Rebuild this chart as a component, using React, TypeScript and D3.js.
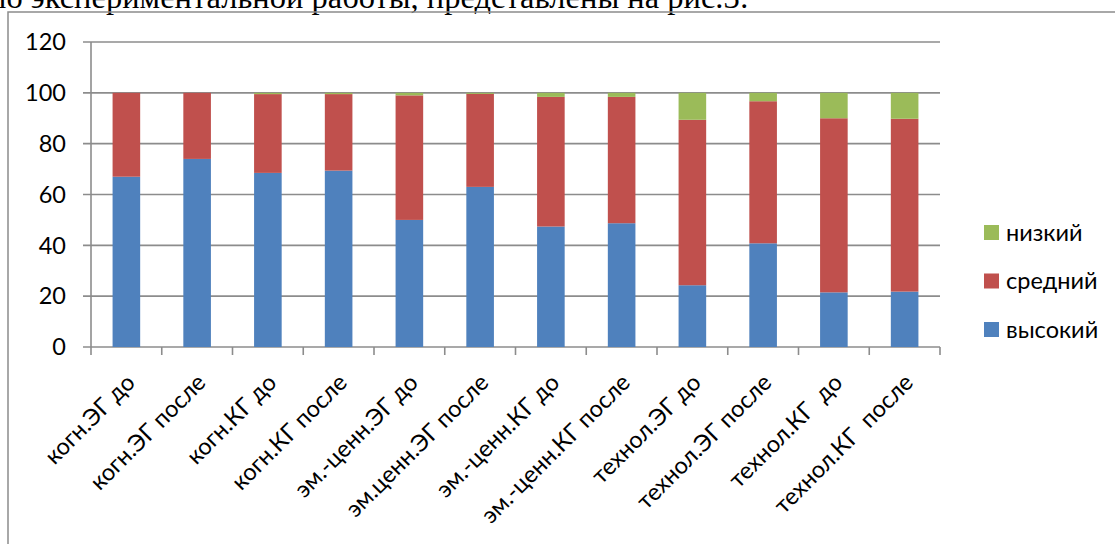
import React from "react";
import * as d3 from "d3";

const categories = [
  "когн.ЭГ до",
  "когн.ЭГ после",
  "когн.КГ до",
  "когн.КГ после",
  "эм.-ценн.ЭГ до",
  "эм.ценн.ЭГ после",
  "эм.-ценн.КГ до",
  "эм.-ценн.КГ после",
  "технол.ЭГ до",
  "технол.ЭГ после",
  "технол.КГ  до",
  "технол.КГ  после",
];
const high = [67, 74, 68.5, 69.4, 50, 63, 47.4, 48.7, 24.3, 40.8, 21.5, 21.8];
const medium = [33, 26, 31, 30.1, 49, 36.6, 51, 49.7, 65.1, 55.9, 68.5, 68];
const low = [0, 0, 0.5, 0.5, 1, 0.4, 1.6, 1.6, 10.6, 3.3, 10, 10.2];
const seriesNames = ["высокий", "средний", "низкий"];
const seriesColors = ["#4F81BD", "#C0504D", "#9BBB59"];
const yTicks = [0, 20, 40, 60, 80, 100, 120];
const caption = "по экспериментальной работы, представлены на рис.3:";

export default function App() {
  const W = 1115;
  const H = 544;
  const x = d3.scaleBand<string>().domain(categories).range([91, 940]).paddingInner(0.61).paddingOuter(0.305);
  const y = d3.scaleLinear().domain([0, 120]).range([347, 42]);
  const rows = categories.map((c, i) => ({ cat: c, high: high[i], medium: medium[i], low: low[i] }));
  const stack = d3.stack<any>().keys(["high", "medium", "low"])(rows);
  const step = (940 - 91) / categories.length;
  const font = "Lato, 'Open Sans', sans-serif";
  const fs = 23.5;
  const grid = "#8C8C8C";
  return (
    <svg width={W} height={H} style={{ position: "absolute", left: 0, top: 0, background: "#fff" }}>
      <text x={-11} y={8} fontFamily="'Liberation Serif', 'Times New Roman', serif" fontSize={32.5} fill="#000">
        {caption}
      </text>
      <rect x={8} y={12} width={1120} height={560} fill="none" stroke="#8C8C8C" strokeWidth={1.5} />
      {yTicks.map((t) => (
        <g key={t}>
          <line x1={83} x2={940} y1={y(t)} y2={y(t)} stroke={grid} strokeWidth={1.6} />
          <text x={66} y={y(t)} dy="0.35em" textAnchor="end" fontFamily={font} fontSize={fs} fill="#000">
            {t}
          </text>
        </g>
      ))}
      <line x1={91} x2={91} y1={y(120)} y2={347} stroke={grid} strokeWidth={1.6} />
      {d3.range(categories.length + 1).map((i) => (
        <line key={i} x1={91 + i * step} x2={91 + i * step} y1={347} y2={355} stroke={grid} strokeWidth={1.6} />
      ))}
      {stack.map((s, si) => (
        <g key={si} fill={seriesColors[si]}>
          {s.map((d, i) => (
            <rect
              key={i}
              x={x(categories[i])}
              width={x.bandwidth()}
              y={y(d[1])}
              height={Math.max(0, y(d[0]) - y(d[1]))}
            />
          ))}
        </g>
      ))}
      {categories.map((c) => {
        const cx = (x(c) as number) + x.bandwidth() / 2;
        return (
          <text
            key={c}
            transform={`translate(${cx + 10},${384}) rotate(-45)`}
            textAnchor="end"
            fontFamily={font}
            fontSize={fs}
            fill="#000"
            style={{ whiteSpace: "pre" }}
          >
            {c}
          </text>
        );
      })}
      {[2, 1, 0].map((si, k) => (
        <g key={si}>
          <rect x={984} y={225 + k * 48.5} width={15} height={15} fill={seriesColors[si]} />
          <text x={1006} y={232.5 + k * 48.5} dy="0.35em" fontFamily={font} fontSize={fs} fill="#000">
            {seriesNames[si]}
          </text>
        </g>
      ))}
    </svg>
  );
}
